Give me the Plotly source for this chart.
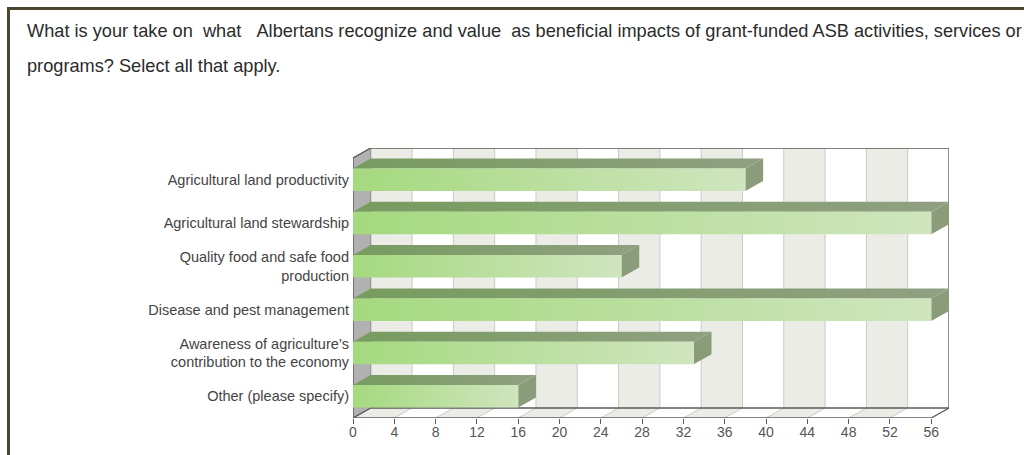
import plotly.graph_objects as go

# ---------------- data ----------------
categories = [
    "Agricultural land productivity",
    "Agricultural land stewardship",
    "Quality food and safe food<br>production",
    "Disease and pest management",
    "Awareness of agriculture\u2019s<br>contribution to the economy",
    "Other (please specify)",
]
values = [38, 56, 26, 56, 33, 16]
x_ticks = [0, 4, 8, 12, 16, 20, 24, 28, 32, 36, 40, 44, 48, 52, 56]
title_line1 = ("What is your take on \u00a0what \u00a0\u00a0Albertans recognize and value "
               "\u00a0as beneficial impacts of grant-funded ASB activities, services or")
title_line2 = "programs? Select all that apply."

# ---------------- geometry (3D look) ----------------
W, H = 1024, 455
L, R, T, B = 353, 75, 148, 37
XMAX = x_ticks[-1]
DX = 1.72          # depth offset in x units
DY = 0.231         # depth offset in y units
N = len(categories)
HALF = 0.26        # half height of bar front face
plot_w = W - L - R
plot_h = H - T - B


def px_x(px):
    return (px - L) / plot_w


def px_y(py):
    return (H - B - py) / plot_h


def poly(pts):
    return "M " + " L ".join(f"{x},{y}" for x, y in pts) + " Z"


shapes = []
BAND = "#ecece7"
GRID = "#c9c9c5"
EDGE = "#5a5a5a"

# back wall bands + grid
for i in range(len(x_ticks) - 1):
    x0, x1 = x_ticks[i] + DX, x_ticks[i + 1] + DX
    col = BAND if i % 2 == 0 else "#ffffff"
    shapes.append(dict(type="rect", xref="x", yref="y", x0=x0, x1=x1, y0=DY, y1=N + DY,
                       fillcolor=col, line=dict(width=0), layer="below"))
    # floor band
    shapes.append(dict(type="path", xref="x", yref="y",
                       path=poly([(x_ticks[i], 0), (x_ticks[i + 1], 0),
                                  (x_ticks[i + 1] + DX, DY), (x_ticks[i] + DX, DY)]),
                       fillcolor=col, line=dict(width=0), layer="below"))
for t in x_ticks[1:-1]:
    shapes.append(dict(type="line", xref="x", yref="y", x0=t + DX, x1=t + DX, y0=DY, y1=N + DY,
                       line=dict(color=GRID, width=1), layer="below"))
    shapes.append(dict(type="line", xref="x", yref="y", x0=t, x1=t + DX, y0=0, y1=DY,
                       line=dict(color=GRID, width=1), layer="below"))

# left side wall
shapes.append(dict(type="path", xref="x", yref="y",
                   path=poly([(0, 0), (0, N), (DX, N + DY), (DX, DY)]),
                   fillcolor="#b1b1b1", line=dict(color="#8a8a8a", width=1), layer="below"))

# frame edges
edge_lines = [
    ((0, 0), (XMAX, 0)),
    ((XMAX, 0), (XMAX + DX, DY)),
    ((DX, DY), (XMAX + DX, DY)),
    ((XMAX + DX, DY), (XMAX + DX, N + DY)),
    ((DX, N + DY), (XMAX + DX, N + DY)),
    ((0, N), (DX, N + DY)),
    ((0, 0), (0, N)),
    ((0, 0), (DX, DY)),
]
for (xa, ya), (xb, yb) in edge_lines:
    shapes.append(dict(type="line", xref="x", yref="y", x0=xa, y0=ya, x1=xb, y1=yb,
                       line=dict(color=EDGE, width=1.3), layer="below"))

# page frame (dark border top / left)
FRAME = "#4d4633"
shapes.append(dict(type="rect", xref="paper", yref="paper",
                   x0=px_x(7), x1=px_x(1030), y0=px_y(7), y1=px_y(10),
                   fillcolor=FRAME, line=dict(width=0)))
shapes.append(dict(type="rect", xref="paper", yref="paper",
                   x0=px_x(7), x1=px_x(10), y0=px_y(7), y1=px_y(460),
                   fillcolor=FRAME, line=dict(width=0)))

# ---------------- bars ----------------
fig = go.Figure()
centers = [N - 1 - i + 0.5 for i in range(N)]
for v, c in zip(values, centers):
    y0, y1 = c - HALF, c + HALF
    # top face
    fig.add_trace(go.Scatter(
        x=[0, v, v + DX, DX, 0], y=[y1, y1, y1 + DY, y1 + DY, y1],
        mode="lines", fill="toself", line=dict(width=0),
        fillgradient=dict(type="horizontal", colorscale=[[0, "#779c5f"], [1, "#90a082"]]),
        hoverinfo="skip", showlegend=False))
    # end face
    fig.add_trace(go.Scatter(
        x=[v, v + DX, v + DX, v, v], y=[y0, y0 + DY, y1 + DY, y1, y0],
        mode="lines", fill="toself", line=dict(width=0), fillcolor="#8b9c7b",
        hoverinfo="skip", showlegend=False))
    # front face
    fig.add_trace(go.Scatter(
        x=[0, v, v, 0, 0], y=[y0, y0, y1, y1, y0],
        mode="lines", fill="toself", line=dict(width=0),
        fillgradient=dict(type="horizontal", colorscale=[[0, "#a5d97f"], [1, "#cfe5be"]]),
        hoverinfo="skip", showlegend=False))

TITLE_FONT = dict(family="Liberation Sans, Arial", size=18.2, color="#2b2b2b")
annotations = [
    dict(text=title_line1, xref="paper", yref="paper", x=px_x(25), y=px_y(31),
         xanchor="left", yanchor="middle", showarrow=False, font=TITLE_FONT),
    dict(text=title_line2, xref="paper", yref="paper", x=px_x(25), y=px_y(66),
         xanchor="left", yanchor="middle", showarrow=False, font=TITLE_FONT),
]

fig.update_layout(
    width=W, height=H,
    margin=dict(l=L, r=R, t=T, b=B, pad=0),
    paper_bgcolor="white", plot_bgcolor="white",
    shapes=shapes, annotations=annotations,
    showlegend=False,
    xaxis=dict(range=[0, XMAX + DX], tickvals=x_ticks, ticktext=[str(t) for t in x_ticks],
               showgrid=False, zeroline=False, showline=False,
               ticks="outside", ticklen=5, tickcolor=EDGE, tickwidth=1,
               ticklabelstandoff=-4,
               tickfont=dict(family="Liberation Sans, Arial", size=14, color="#555555"),
               fixedrange=True),
    yaxis=dict(range=[0, N + DY], tickvals=centers, ticktext=categories,
               showgrid=False, zeroline=False, showline=False, ticks="",
               ticklabelstandoff=3,
               tickfont=dict(family="Liberation Sans, Arial", size=14.5, color="#444444"),
               fixedrange=True),
)

fig.write_html("out.html")
